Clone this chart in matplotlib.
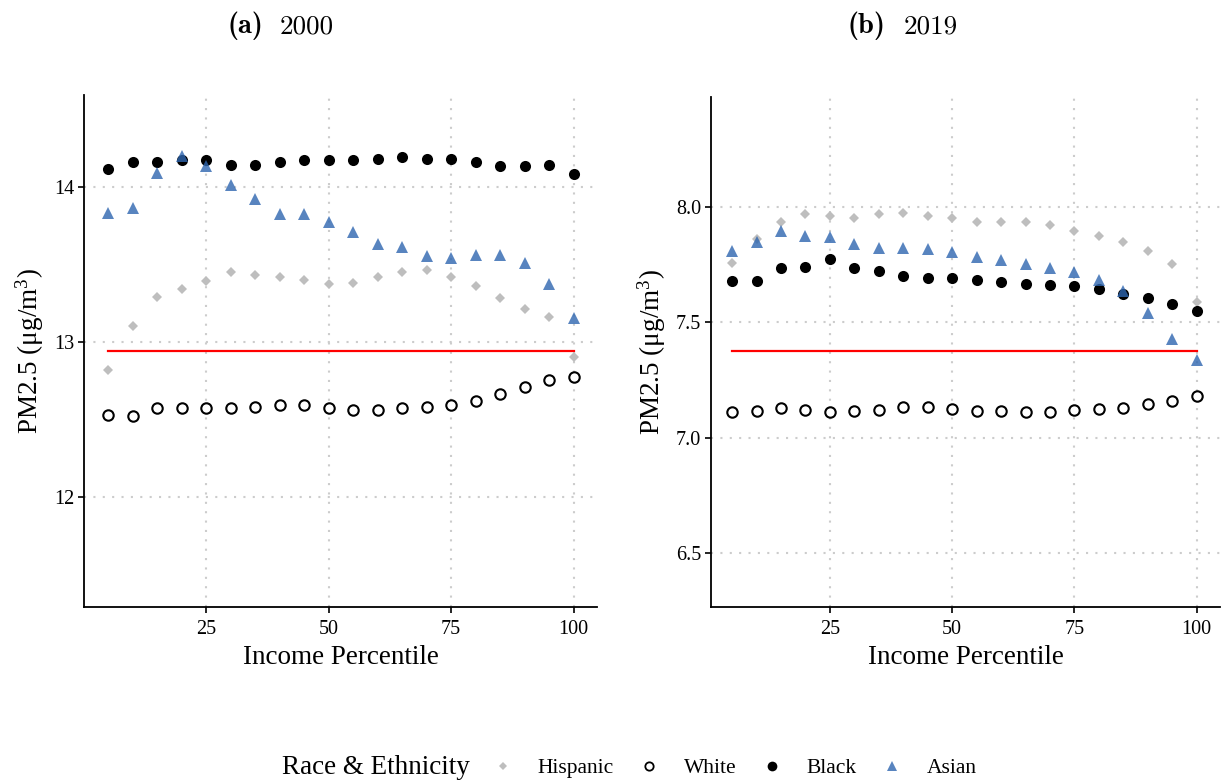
"""
PM2.5 exposure by income percentile and race/ethnicity, 2000 vs 2019.
"""
import matplotlib
matplotlib.use('Agg')
import matplotlib.pyplot as plt
from matplotlib.lines import Line2D

plt.rcParams['font.family'] = ['Liberation Serif', 'DejaVu Serif']
plt.rcParams['mathtext.fontset'] = 'custom'
plt.rcParams['mathtext.rm'] = 'Liberation Serif'
plt.rcParams['mathtext.it'] = 'Liberation Serif:italic'
plt.rcParams['mathtext.bf'] = 'Liberation Serif:bold'

percentile = [5, 10, 15, 20, 25, 30, 35, 40, 45, 50,
              55, 60, 65, 70, 75, 80, 85, 90, 95, 100]

# 2000
hispanic_2000 = [12.82, 13.10, 13.29, 13.34, 13.39, 13.45, 13.43, 13.42, 13.40, 13.37,
                 13.38, 13.42, 13.45, 13.46, 13.42, 13.36, 13.28, 13.21, 13.16, 12.90]
white_2000 = [12.53, 12.52, 12.57, 12.57, 12.57, 12.57, 12.58, 12.59, 12.59, 12.57,
              12.56, 12.56, 12.57, 12.58, 12.59, 12.62, 12.66, 12.71, 12.75, 12.77]
black_2000 = [14.11, 14.16, 14.16, 14.17, 14.17, 14.14, 14.14, 14.16, 14.17, 14.17,
              14.17, 14.18, 14.19, 14.18, 14.18, 14.16, 14.13, 14.13, 14.14, 14.08]
asian_2000 = [13.83, 13.86, 14.09, 14.20, 14.13, 14.01, 13.92, 13.82, 13.82, 13.77,
              13.71, 13.63, 13.61, 13.55, 13.54, 13.56, 13.56, 13.51, 13.37, 13.15]
mean_2000 = 12.94

# 2019
hispanic_2019 = [7.757, 7.861, 7.934, 7.968, 7.962, 7.951, 7.970, 7.974, 7.960, 7.954,
                 7.936, 7.936, 7.934, 7.922, 7.897, 7.873, 7.850, 7.811, 7.753, 7.587]
white_2019 = [7.110, 7.114, 7.129, 7.121, 7.111, 7.116, 7.121, 7.132, 7.133, 7.126,
              7.117, 7.116, 7.113, 7.113, 7.119, 7.123, 7.130, 7.145, 7.158, 7.182]
black_2019 = [7.679, 7.679, 7.734, 7.739, 7.775, 7.737, 7.724, 7.700, 7.691, 7.691,
              7.685, 7.674, 7.665, 7.662, 7.656, 7.645, 7.624, 7.604, 7.580, 7.549]
asian_2019 = [7.809, 7.850, 7.894, 7.873, 7.869, 7.838, 7.821, 7.821, 7.818, 7.804,
              7.782, 7.772, 7.752, 7.736, 7.717, 7.685, 7.636, 7.541, 7.428, 7.338]
mean_2019 = 7.376

grey = '#BEBEBE'
blue = '#2E66B0'

fig = plt.figure(figsize=(12.22, 7.84), dpi=100)
ax1 = fig.add_axes([84 / 1222, 177 / 784, 513 / 1222, 512 / 784])
ax2 = fig.add_axes([711 / 1222, 177 / 784, 509 / 1222, 510 / 784])


def draw(ax, hisp, white, black, asian, mean, ylim, yticks, fmt):
    ax.plot([percentile[0], percentile[-1]], [mean, mean], color='red', lw=1.6, zorder=2)
    ax.plot(percentile, hisp, 'D', color=grey, ms=5.5, mew=0, zorder=3)
    ax.plot(percentile, white, 'o', mfc='white', mec='black', ms=7.5, mew=1.5, zorder=3)
    ax.plot(percentile, black, 'o', color='black', ms=8, mew=0, zorder=4)
    ax.plot(percentile, asian, '^', color=blue, alpha=0.8, ms=9, mew=0, zorder=5)

    ax.set_ylim(*ylim)
    ax.set_yticks(yticks)
    ax.set_yticklabels([fmt % v for v in yticks])
    ax.set_xticks([25, 50, 75, 100])
    ax.grid(True, color='#CCCCCC', linestyle=(0, (1, 3.5)), lw=1.5)
    ax.set_axisbelow(True)
    for s in ['top', 'right']:
        ax.spines[s].set_visible(False)
    for s in ['left', 'bottom']:
        ax.spines[s].set_linewidth(1.3)
    ax.tick_params(labelsize=14.5, length=4, width=1.2, colors='black', pad=3)
    ax.tick_params(axis='x', pad=5)
    ax.set_xlabel('Income Percentile', fontsize=19.5, labelpad=5)
    ax.set_ylabel(r'PM2.5 ($\mathrm{\mu}$g/m$^3$)', fontsize=19.5, labelpad=6)


draw(ax1, hispanic_2000, white_2000, black_2000, asian_2000, mean_2000,
     (11.29, 14.59), [12, 13, 14], '%d')
ax1.set_xlim(0.1, 104.75)

draw(ax2, hispanic_2019, white_2019, black_2019, asian_2019, mean_2019,
     (6.266, 8.477), [6.5, 7.0, 7.5, 8.0], '%.1f')
ax2.set_xlim(0.68, 104.75)

# sub-figure captions: bold letter, regular year
base = 1 - 33 / 784
fig.text(228 / 1222, base, '(a)', fontsize=20.5, family='cmb10', va='baseline')
fig.text(280 / 1222, base, '2000', fontsize=19.5, family='cmr10', va='baseline')
fig.text(848 / 1222, base, '(b)', fontsize=20.5, family='cmb10', va='baseline')
fig.text(904 / 1222, base, '2019', fontsize=19.5, family='cmr10', va='baseline')

# legend at the bottom
fig.text(282 / 1222, 1 - 768 / 784, 'Race & Ethnicity', fontsize=19.5, ha='left', va='center')
handles = [
    Line2D([], [], ls='', marker='D', color=grey, ms=4, mew=0),
    Line2D([], [], ls='', marker='o', mfc='white', mec='black', ms=6, mew=1.3),
    Line2D([], [], ls='', marker='o', color='black', ms=7, mew=0),
    Line2D([], [], ls='', marker='^', color=blue, alpha=0.8, ms=7.5, mew=0),
]
fig.legend(handles, ['Hispanic', 'White', 'Black', 'Asian'], ncol=4,
           loc='center left', bbox_to_anchor=(487 / 1222, 1 - 768 / 784),
           frameon=False, fontsize=15.5, handlelength=1.5, handletextpad=0.85,
           columnspacing=0.9, borderpad=0, borderaxespad=0)

fig.savefig('out.png', dpi=100)
